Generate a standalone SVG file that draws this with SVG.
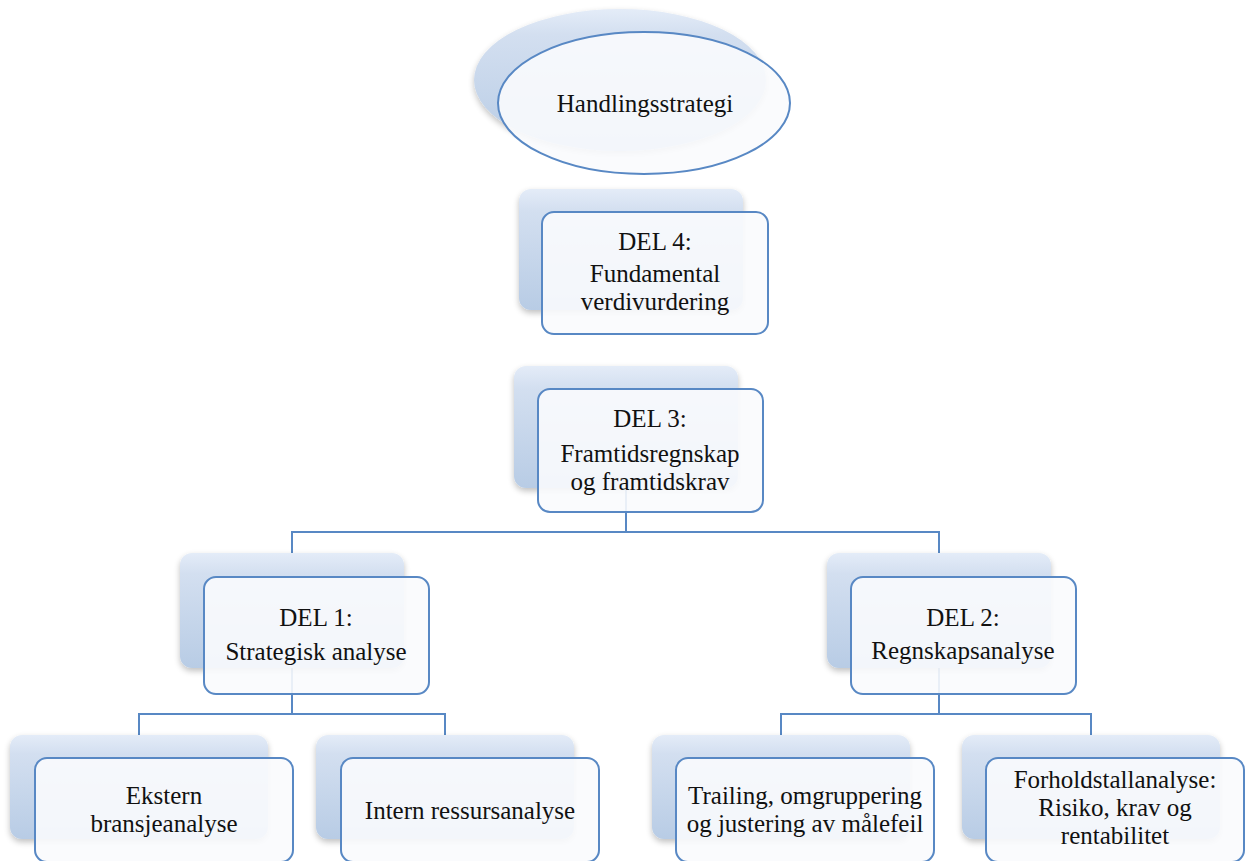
<svg xmlns="http://www.w3.org/2000/svg" width="1256" height="861" viewBox="0 0 1256 861">
  <defs>
    <linearGradient id="backFill" x1="0" y1="0" x2="0" y2="1">
      <stop offset="0" stop-color="#E4ECF8"/>
      <stop offset="0.18" stop-color="#D3DFF0"/>
      <stop offset="1" stop-color="#B8CCE5"/>
    </linearGradient>
    <filter id="soft" x="-10%" y="-10%" width="120%" height="130%">
      <feGaussianBlur in="SourceAlpha" stdDeviation="3"/>
      <feOffset dx="0" dy="3" result="b"/>
      <feComponentTransfer><feFuncA type="linear" slope="0.25"/></feComponentTransfer>
      <feMerge><feMergeNode/><feMergeNode in="SourceGraphic"/></feMerge>
    </filter>
  </defs>
  <style>
    .back { fill: url(#backFill); filter: url(#soft); }
    .front { fill: #F9FBFD; fill-opacity: 0.9; stroke: #5888C4; stroke-width: 2; }
    .wire { fill: none; stroke: #5888C4; stroke-width: 2; }
    text { font-family: "Liberation Serif", "Times New Roman", serif; font-size: 25px; fill: #111111; text-anchor: middle; }
  </style>

  <rect width="1256" height="861" fill="#FFFFFF"/>

  <!-- connectors, drawn under the boxes -->
  <g id="connectors">
    <path class="wire" d="M626 488 V532 H292 V553"/>
    <path class="wire" d="M626 532 H939 V553"/>
    <path class="wire" d="M292 668 V714 H139 V735"/>
    <path class="wire" d="M292 714 H445 V735"/>
    <path class="wire" d="M939 668 V714 H781 V735"/>
    <path class="wire" d="M939 714 H1091 V735"/>
  </g>

  <g id="handlingsstrategi">
    <ellipse class="back" cx="620" cy="80" rx="146" ry="71"/>
    <ellipse class="front" cx="644" cy="103" rx="146" ry="71"/>
    <text x="645" y="112">Handlingsstrategi</text>
  </g>

  <g id="del4">
    <rect class="back" x="519" y="189" width="224" height="121" rx="12"/>
    <rect class="front" x="542" y="212" width="226" height="122" rx="12"/>
    <text x="655" y="250">DEL 4:</text>
    <text x="655" y="282">Fundamental</text>
    <text x="655" y="310">verdivurdering</text>
  </g>

  <g id="del3">
    <rect class="back" x="514" y="366" width="224" height="122" rx="12"/>
    <rect class="front" x="538" y="389" width="225" height="123" rx="12"/>
    <text x="650" y="427">DEL 3:</text>
    <text x="650" y="462">Framtidsregnskap</text>
    <text x="650" y="490">og framtidskrav</text>
  </g>

  <g id="del1">
    <rect class="back" x="180" y="553" width="224" height="115" rx="12"/>
    <rect class="front" x="204" y="577" width="225" height="117" rx="12"/>
    <text x="316" y="626">DEL 1:</text>
    <text x="316" y="660">Strategisk analyse</text>
  </g>

  <g id="del2">
    <rect class="back" x="827" y="553" width="224" height="115" rx="12"/>
    <rect class="front" x="851" y="577" width="225" height="117" rx="12"/>
    <text x="963" y="626">DEL 2:</text>
    <text x="963" y="659">Regnskapsanalyse</text>
  </g>

  <g id="ekstern">
    <rect class="back" x="10" y="735" width="258" height="104" rx="12"/>
    <rect class="front" x="35" y="758" width="258" height="104" rx="12"/>
    <text x="164" y="804">Ekstern</text>
    <text x="164" y="832">bransjeanalyse</text>
  </g>

  <g id="intern">
    <rect class="back" x="316" y="735" width="258" height="104" rx="12"/>
    <rect class="front" x="341" y="758" width="258" height="104" rx="12"/>
    <text x="470" y="819">Intern ressursanalyse</text>
  </g>

  <g id="trailing">
    <rect class="back" x="652" y="735" width="258" height="104" rx="12"/>
    <rect class="front" x="676" y="758" width="258" height="104" rx="12"/>
    <text x="805" y="804">Trailing, omgruppering</text>
    <text x="805" y="832">og justering av målefeil</text>
  </g>

  <g id="forholdstall">
    <rect class="back" x="962" y="735" width="258" height="104" rx="12"/>
    <rect class="front" x="986" y="758" width="258" height="104" rx="12"/>
    <text x="1115" y="788">Forholdstallanalyse:</text>
    <text x="1115" y="816">Risiko, krav og</text>
    <text x="1115" y="844">rentabilitet</text>
  </g>
</svg>
